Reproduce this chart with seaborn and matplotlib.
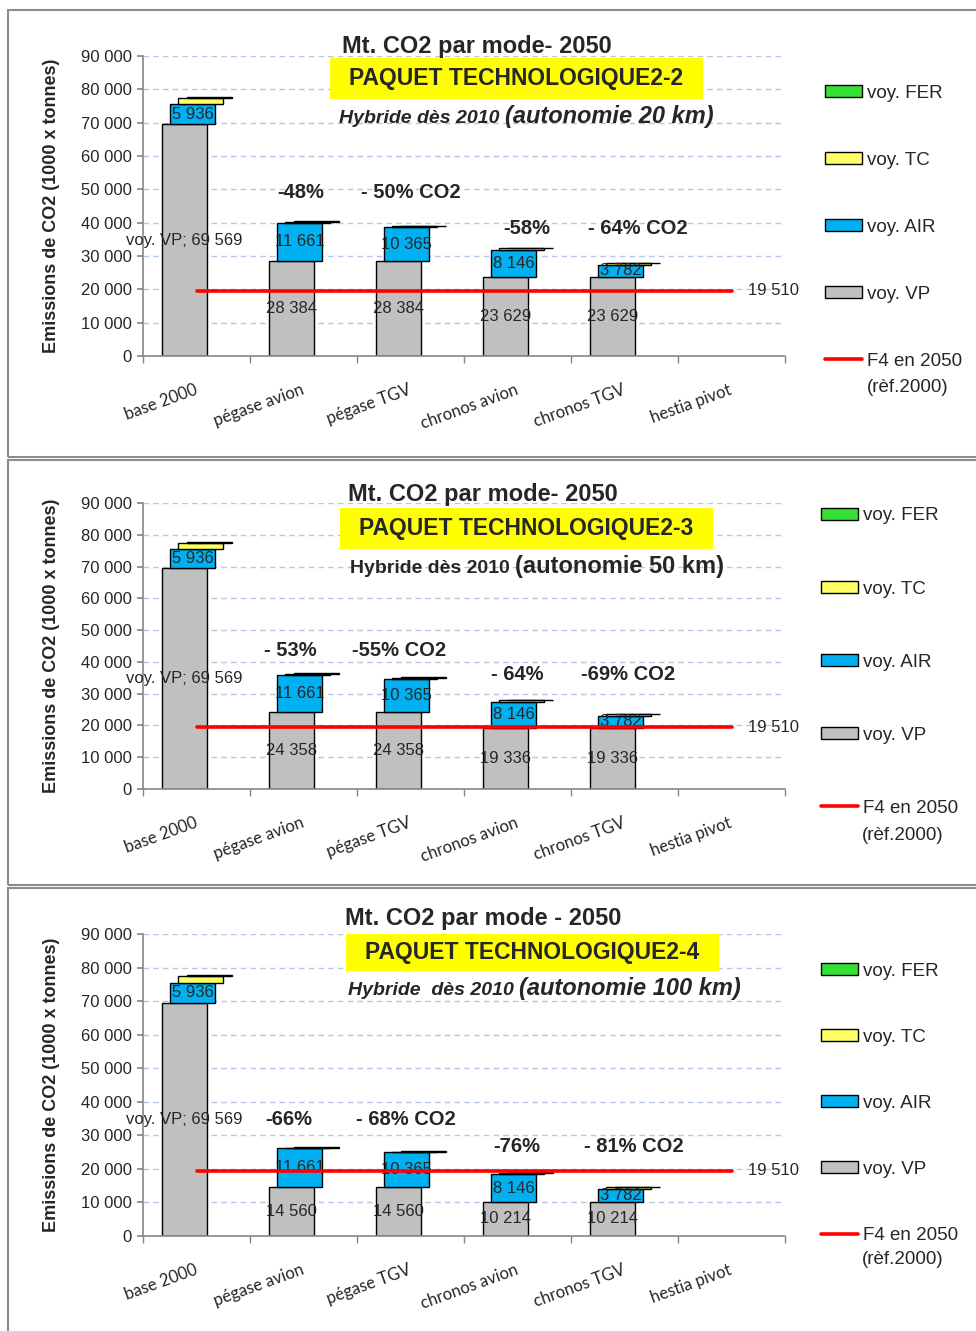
import numpy as np
import pandas as pd
import matplotlib.pyplot as plt
import seaborn as sns
from matplotlib.patches import Patch, Rectangle
from matplotlib.lines import Line2D

# données (1000 x tonnes CO2)
categories = ['base 2000', 'pégase avion', 'pégase TGV', 'chronos avion', 'chronos TGV', 'hestia pivot']
vp_2_2 = [69569, 28384, 28384, 23629, 23629, 0]
vp_2_3 = [69569, 24358, 24358, 19336, 19336, 0]
vp_2_4 = [69569, 14560, 14560, 10214, 10214, 0]
air = [5936, 11661, 10365, 8146, 3782, 0]
tc = [2000, 150, 150, 500, 550, 0]
fer = [300, 250, 250, 120, 80, 0]
f4_2050 = [19510, 19510, 19510, 19510, 19510, 19510]
y_ticks = [0, 10000, 20000, 30000, 40000, 50000, 60000, 70000, 80000, 90000]

W, H = 976, 1331
FONT = ['Liberation Sans', 'DejaVu Sans']

sns.set_theme(style='white')
plt.rcParams['font.family'] = FONT


def fx(px):
    return px / W


def fy(py):
    return 1 - py / H


def sp(n):
    return f'{n:,}'.replace(',', ' ')


panels = [
    dict(vp=vp_2_2, pos=(143, 56, 785, 356), frame=(8, 10, 457),
         title='Mt. CO2 par mode- 2050', title_xy=(477, 46),
         box=(330, 58, 703, 99), paquet='PAQUET TECHNOLOGIQUE2-2',
         sub=('Hybride dès 2010 ', '(autonomie 20 km)'), sub_xy=(505, 123), italic=True,
         pct=[('-48%', 0.97, 49200), ('- 50% CO2', 2.0, 49200), ('-58%', 3.09, 38400), ('- 64% CO2', 4.12, 38400)],
         leg=(825, 84.5, 2.67), ref_xy=(867, 388)),
    dict(vp=vp_2_3, pos=(143, 503, 785, 789), frame=(8, 460, 885),
         title='Mt. CO2 par mode- 2050', title_xy=(483, 495),
         box=(340, 508, 713, 549), paquet='PAQUET TECHNOLOGIQUE2-3',
         sub=('Hybride dès 2010 ', '(autonomie 50 km)'), sub_xy=(515, 573), italic=False,
         pct=[('- 53%', 0.88, 43700), ('-55% CO2', 1.89, 43700), ('- 64%', 3.0, 35900), ('-69% CO2', 4.03, 35900)],
         leg=(821, 507.5, 2.99), ref_xy=(862, 836)),
    dict(vp=vp_2_4, pos=(143, 934, 785, 1236), frame=(8, 888, 1345),
         title='Mt. CO2 par mode - 2050', title_xy=(483, 918),
         box=(346, 934, 719, 971), paquet='PAQUET TECHNOLOGIQUE2-4',
         sub=('Hybride  dès 2010 ', '(autonomie 100 km)'), sub_xy=(519, 995), italic=True,
         pct=[('-66%', 0.86, 34600), ('- 68% CO2', 1.96, 34600), ('-76%', 2.99, 26800), ('- 81% CO2', 4.09, 26800)],
         leg=(821, 962.5, 2.62), ref_xy=(862, 1260)),
]

fig = plt.figure(figsize=(W / 100, H / 100), dpi=100)
fig.patch.set_facecolor('white')

for pn in panels:
    x0, y0, x1, y1 = pn['pos']
    ax = fig.add_axes([fx(x0), fy(y1), (x1 - x0) / W, (y1 - y0) / H])
    ax.set_facecolor('white')

    # barres empilées, chaque série décalée (effet 3D excel)
    layers = [(pn['vp'], '#c0c0c0', -0.112), (air, '#00b0f0', -0.037),
              (tc, '#ffff66', 0.04), (fer, '#33e033', 0.12)]
    bottom = np.zeros(len(categories))
    for i, (vals, col, off) in enumerate(layers):
        n0 = len(ax.patches)
        sns.barplot(x=categories, y=vals, order=categories, bottom=bottom, color=col,
                    saturation=1, width=0.42, errorbar=None, edgecolor='black',
                    linewidth=1, ax=ax)
        new = ax.patches[n0:]
        for p in new:
            p.set_x(p.get_x() + off)
        if i == 0:
            labs = [sp(v) for v in vals]
            labs[0] = 'voy. VP; ' + sp(vals[0])
            labs[-1] = ''
            ax.bar_label(ax.containers[-1], labels=labs, label_type='center', fontsize=12)
        elif i == 1:
            labs = [sp(v) for v in vals]
            labs[-1] = ''
            ax.bar_label(ax.containers[-1], labels=labs, label_type='center', fontsize=12)
        for p in new:
            if p.get_height() == 0:
                p.set_visible(False)
        bottom = bottom + np.array(vals)

    sns.lineplot(x=categories, y=f4_2050, color='#ff0000', lw=2.6, ax=ax, zorder=4)
    ax.annotate(sp(f4_2050[-1]), (5, f4_2050[-1]), xytext=(12, 0), textcoords='offset points',
                ha='left', va='center', fontsize=12)

    for txt, xx, yy in pn['pct']:
        ax.text(xx, yy, txt, ha='center', va='center', fontsize=14.5, fontweight='bold')

    ax.set_xlim(-0.5, 5.5)
    ax.set_ylim(0, 90000)
    ax.set_yticks(y_ticks)
    ax.set_yticklabels([sp(v) for v in y_ticks])
    ax.yaxis.grid(True, color='#b4c6e7', linestyle=(0, (4, 3)), lw=1)
    ax.xaxis.grid(False)
    ax.set_axisbelow(True)
    for s in ['top', 'right']:
        ax.spines[s].set_visible(False)
    for s in ['left', 'bottom']:
        ax.spines[s].set_color('#868686')
        ax.spines[s].set_linewidth(1.2)
    ax.tick_params(axis='y', length=4, color='#868686', labelsize=12, pad=4, left=True)
    ax.set_xticks(np.arange(-0.5, 6, 1), minor=True)
    ax.tick_params(axis='x', which='minor', length=5, color='#868686', bottom=True)
    ax.tick_params(axis='x', which='major', length=0, pad=24)
    for lbl in ax.get_xticklabels():
        lbl.set_rotation(20)
        lbl.set_ha('right')
        lbl.set_va('center')
        lbl.set_rotation_mode('anchor')
        lbl.set_family(['Lato', 'DejaVu Sans'])
        lbl.set_fontsize(12)
    ax.set_xlabel('')
    ax.set_ylabel('Emissions de CO2 (1000 x tonnes)', fontsize=13, fontweight='bold', labelpad=15)

    # cadre du graphique
    fl, ft, fb = pn['frame']
    fig.patches.append(Rectangle((fx(fl), fy(fb)), (W + 20 - fl) / W, (fb - ft) / H,
                                 transform=fig.transFigure, fill=False,
                                 edgecolor='#8c8c8c', lw=1.5, zorder=0))

    # titres
    tx, ty = pn['title_xy']
    fig.text(fx(tx), fy(ty), pn['title'], ha='center', va='center', fontsize=17, fontweight='bold')
    bx0, by0, bx1, by1 = pn['box']
    fig.patches.append(Rectangle((fx(bx0), fy(by1)), (bx1 - bx0) / W, (by1 - by0) / H,
                                 transform=fig.transFigure, facecolor='#ffff00',
                                 edgecolor='none', zorder=1))
    fig.text(fx((bx0 + bx1) / 2), fy((by0 + by1) / 2), pn['paquet'], ha='center', va='center',
             fontsize=16.5, fontweight='bold', zorder=3)
    sx, sy = pn['sub_xy']
    style = 'italic' if pn['italic'] else 'normal'
    fig.text(fx(sx), fy(sy), pn['sub'][0], ha='right', va='baseline', fontsize=14,
             fontweight='bold', fontstyle=style)
    fig.text(fx(sx), fy(sy), pn['sub'][1], ha='left', va='baseline', fontsize=17,
             fontweight='bold', fontstyle=style)

    # légende
    lx, ly, lsp = pn['leg']
    handles = [Patch(facecolor='#33e033', edgecolor='black', lw=1),
               Patch(facecolor='#ffff66', edgecolor='black', lw=1),
               Patch(facecolor='#00b0f0', edgecolor='black', lw=1),
               Patch(facecolor='#c0c0c0', edgecolor='black', lw=1),
               Line2D([], [], color='#ff0000', lw=2.6)]
    labels = ['voy. FER', 'voy. TC', 'voy. AIR', 'voy. VP', 'F4 en 2050']
    fig.legend(handles, labels, loc='upper left', bbox_to_anchor=(fx(lx), fy(ly)),
               frameon=False, fontsize=13.5, handlelength=1.97, handleheight=0.6,
               handletextpad=0.27, labelspacing=lsp, borderpad=0, borderaxespad=0)
    rx, ry = pn['ref_xy']
    fig.text(fx(rx), fy(ry), '(rèf.2000)', ha='left', va='center', fontsize=13.5)

fig.savefig('out.png', dpi=100)
